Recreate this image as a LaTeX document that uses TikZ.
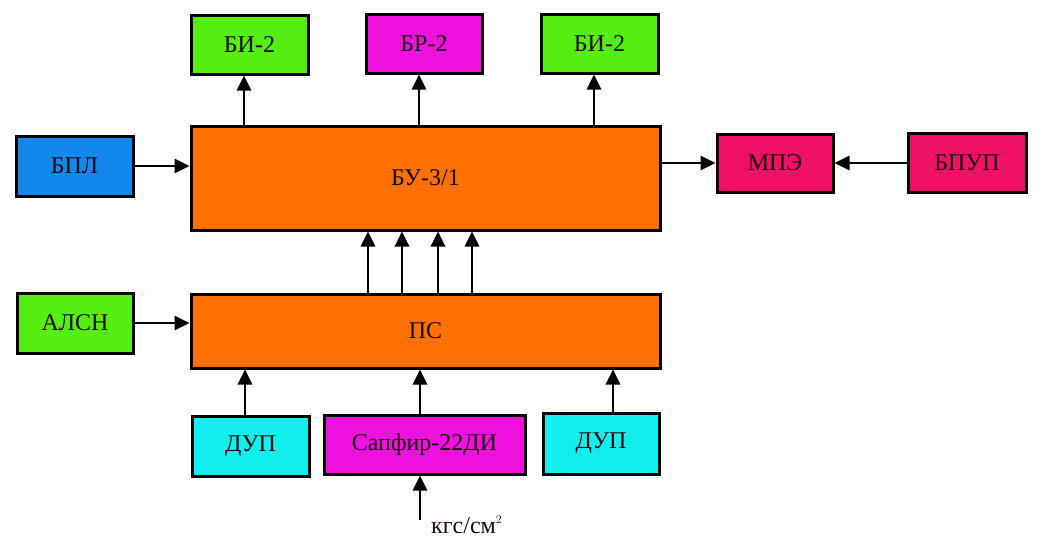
\documentclass[tikz,border=0pt]{standalone}
\usepackage{fontspec}
\setmainfont{Liberation Serif}
\usetikzlibrary{arrows.meta}
\definecolor{cgreen}{HTML}{55EE11}
\definecolor{cmag}{HTML}{EE11DD}
\definecolor{cpink}{HTML}{EE1166}
\definecolor{cblue}{HTML}{1188EE}
\definecolor{corange}{HTML}{FF7000}
\definecolor{ccyan}{HTML}{11EEEE}
\definecolor{ctext}{HTML}{1A0A0A}
\tikzset{
  box/.style={draw=black, line width=3pt, inner sep=0pt, text=ctext,
    font=\fontsize{24}{27}\selectfont},
  arr/.style={line width=2.8pt, -{Triangle[length=15pt,width=14pt]}},
}
\begin{document}
\begin{tikzpicture}[x=1pt,y=-1pt]
\useasboundingbox[fill=white] (0,0) rectangle (1047,541);
% top row
\node[box, fill=cgreen, minimum width=117pt, minimum height=59pt] (bi1) at (249.5,44.5) {БИ-2};
\node[box, fill=cmag, minimum width=116pt, minimum height=59pt] (br) at (424,43.5) {БР-2};
\node[box, fill=cgreen, minimum width=117pt, minimum height=59pt] (bi2) at (599.5,43.5) {БИ-2};
% middle
\node[box, fill=cblue, minimum width=117pt, minimum height=60pt] (bpl) at (74.5,166) {БПЛ};
\node[box, fill=corange, minimum width=469pt, minimum height=104pt] (bu) at (425.5,178) {БУ-3/1};
\node[box, fill=cpink, minimum width=116pt, minimum height=58pt] (mpe) at (775,163) {МПЭ};
\node[box, fill=cpink, minimum width=118pt, minimum height=59pt] (bpup) at (967,163) {БПУП};
\node[box, fill=cgreen, minimum width=116pt, minimum height=60pt] (alsn) at (75,323) {АЛСН};
\node[box, fill=corange, minimum width=469pt, minimum height=74pt] (ps) at (425.5,331) {ПС};
% bottom
\node[box, fill=ccyan, minimum width=117pt, minimum height=60pt] (dup1) at (250.5,446) {ДУП};
\node[box, fill=cmag, minimum width=201pt, minimum height=59pt] (sap) at (424.5,444.5) {Сапфир-22ДИ};
\node[box, fill=ccyan, minimum width=116pt, minimum height=61pt] (dup2) at (601,443.5) {ДУП};
% helper coordinates
\coordinate (t1) at ([xshift=-5.5pt]bi1.south);
\coordinate (t2) at ([xshift=-5pt]br.south);
\coordinate (t3) at ([xshift=-5.5pt]bi2.south);
\coordinate (m1) at ([xshift=-57.5pt]bu.south);
\coordinate (m2) at ([xshift=-23.5pt]bu.south);
\coordinate (m3) at ([xshift=12.5pt]bu.south);
\coordinate (m4) at ([xshift=46.5pt]bu.south);
\coordinate (b1) at ([xshift=-5.5pt]dup1.north);
\coordinate (b2) at ([xshift=-4.5pt]sap.north);
\coordinate (b3) at ([xshift=12pt]dup2.north);
\coordinate (kin) at (420,520);
% arrows
\draw[arr] (t1 |- bu.north) -- (t1);
\draw[arr] (t2 |- bu.north) -- (t2);
\draw[arr] (t3 |- bu.north) -- (t3);
\draw[arr] (bpl.east) -- (bpl.east -| bu.west);
\draw[arr] (bu.east |- mpe.west) -- (mpe.west);
\draw[arr] (bpup.west) -- (mpe.east);
\draw[arr] (alsn.east) -- (alsn.east -| ps.west);
\draw[arr] (m1 |- ps.north) -- (m1);
\draw[arr] (m2 |- ps.north) -- (m2);
\draw[arr] (m3 |- ps.north) -- (m3);
\draw[arr] (m4 |- ps.north) -- (m4);
\draw[arr] (b1) -- (b1 |- ps.south);
\draw[arr] (b2) -- (b2 |- ps.south);
\draw[arr] (b3) -- (b3 |- ps.south);
\draw[arr] (kin) -- (kin |- sap.south);
\node[anchor=base west, inner sep=0pt, text=ctext, font=\fontsize{24}{27}\selectfont] (unit) at (431,533) {кгс/см$^{\scriptscriptstyle 2}$};
\end{tikzpicture}
\end{document}
